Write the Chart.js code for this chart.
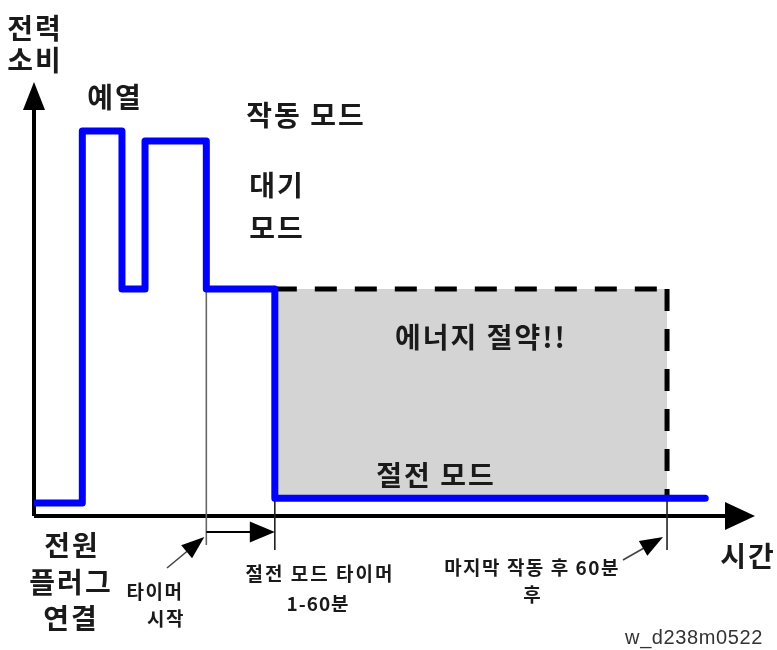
<!DOCTYPE html>
<html>
<head>
<meta charset="utf-8">
<script src="https://cdn.jsdelivr.net/npm/chart.js@4"></script>
<style>
  html, body { margin: 0; padding: 0; background: #fff; }
  #wrap { width: 777px; height: 650px; }
</style>
</head>
<body>
<div id="wrap"><canvas id="powerChart" width="777" height="650"></canvas></div>
<script>
// time axis runs 0..100, power axis 0..100 (arbitrary units)
const powerTimes  = [0, 6.7, 12.2, 15.4, 23.9, 33.4, 93.1];
const powerLevels = [3.0, 88.7, 52.3, 86.4, 52.3, 4.1, 4.1];

const savingTimes  = [33.4, 87.8];
const savingLevels = [52.3, 52.3];
const savingFloor  = 4.1;

const timerStart = 23.9;   // 타이머 시작
const sleepStart = 33.4;   // 절전 모드 진입
const lastOpEnd  = 87.8;   // 마지막 작동 후 60분

const BIG = 'bold 28px "Noto Sans CJK KR", sans-serif';
const SMALL = 'bold 19px "Noto Sans CJK KR", sans-serif';

const labels = [
    { text: "전력", x: 35, y: 28, font: BIG },
    { text: "소비", x: 35, y: 60, font: BIG },
    { text: "예열", x: 115, y: 97, font: BIG },
    { text: "작동 모드", x: 306, y: 115, font: BIG },
    { text: "대기", x: 277, y: 185, font: BIG },
    { text: "모드", x: 277, y: 228, font: BIG },
    { text: "에너지 절약!!", x: 481, y: 337, font: BIG },
    { text: "절전 모드", x: 436, y: 475, font: BIG },
    { text: "전원", x: 72, y: 545, font: BIG },
    { text: "플러그", x: 71, y: 582, font: BIG },
    { text: "연결", x: 71, y: 618, font: BIG },
    { text: "시간", x: 748, y: 556, font: BIG },
    { text: "타이머", x: 155, y: 592, font: SMALL, sp: 1.5 },
    { text: "시작", x: 166, y: 619, font: SMALL, sp: 1.5 },
    { text: "절전 모드 타이머", x: 320, y: 574, font: SMALL, sp: 2 },
    { text: "1-60분", x: 318, y: 604, font: SMALL, sp: 1 },
    { text: "마지막 작동 후 60분", x: 532, y: 568, font: SMALL, sp: 1.5 },
    { text: "후", x: 533, y: 595, font: SMALL },
    { text: "w_d238m0522", x: 694, y: 638, font: '20px "Liberation Sans", Arial, sans-serif', color: "#333", sp: 0.6 }
];

function arrowHead(ctx, x1, y1, x2, y2, len, wid) {
    const a = Math.atan2(y2 - y1, x2 - x1);
    ctx.beginPath();
    ctx.moveTo(x2, y2);
    ctx.lineTo(x2 - len * Math.cos(a) + wid / 2 * Math.sin(a), y2 - len * Math.sin(a) - wid / 2 * Math.cos(a));
    ctx.lineTo(x2 - len * Math.cos(a) - wid / 2 * Math.sin(a), y2 - len * Math.sin(a) + wid / 2 * Math.cos(a));
    ctx.closePath();
    ctx.fill();
}

const diagramPlugin = {
    id: 'diagram',
    beforeDatasetsDraw(chart) {
        const { ctx, chartArea, scales } = chart;
        const x = scales.x, y = scales.y;
        const x0 = chartArea.left, y0 = chartArea.bottom;
        ctx.save();
        ctx.fillStyle = '#000';
        ctx.strokeStyle = '#000';
        ctx.lineWidth = 4;
        // axes
        ctx.beginPath();
        ctx.moveTo(x0, y0);
        ctx.lineTo(x0, chartArea.top + 25);
        ctx.moveTo(x0, y0);
        ctx.lineTo(chartArea.right - 25, y0);
        ctx.stroke();
        arrowHead(ctx, x0, y0, x0, chartArea.top, 28, 22);
        arrowHead(ctx, x0, y0, chartArea.right, y0, 30, 28);

        // thin marker lines
        ctx.lineWidth = 1.6;
        ctx.strokeStyle = '#666';
        ctx.beginPath();
        ctx.moveTo(x.getPixelForValue(timerStart), y.getPixelForValue(savingLevels[0]));
        ctx.lineTo(x.getPixelForValue(timerStart), y0 + 29);
        ctx.stroke();
        ctx.strokeStyle = '#222';
        ctx.beginPath();
        ctx.moveTo(x.getPixelForValue(sleepStart), y.getPixelForValue(savingFloor));
        ctx.lineTo(x.getPixelForValue(sleepStart), y0 + 34);
        ctx.moveTo(x.getPixelForValue(lastOpEnd), y.getPixelForValue(savingFloor));
        ctx.lineTo(x.getPixelForValue(lastOpEnd), y0 + 34);
        ctx.stroke();

        // timer interval arrow
        const ta = x.getPixelForValue(timerStart), tb = x.getPixelForValue(sleepStart);
        ctx.lineWidth = 2;
        ctx.strokeStyle = '#000';
        ctx.beginPath();
        ctx.moveTo(ta, y0 + 16);
        ctx.lineTo(tb - 20, y0 + 16);
        ctx.stroke();
        arrowHead(ctx, ta, y0 + 16, tb, y0 + 16, 25, 21);

        // pointer arrows
        ctx.lineWidth = 1.6;
        ctx.strokeStyle = '#444';
        const p1 = [167, 568, ta - 2, y0 + 21];
        const p2 = [623, 560, x.getPixelForValue(lastOpEnd) - 4, y0 + 21];
        [p1, p2].forEach(p => {
            const a = Math.atan2(p[3] - p[1], p[2] - p[0]);
            ctx.beginPath();
            ctx.moveTo(p[0], p[1]);
            ctx.lineTo(p[2] - 18 * Math.cos(a), p[3] - 18 * Math.sin(a));
            ctx.stroke();
            arrowHead(ctx, p[0], p[1], p[2], p[3], 23, 17);
        });
        ctx.restore();
    },
    afterDraw(chart) {
        const ctx = chart.ctx;
        ctx.save();
        ctx.textAlign = 'center';
        ctx.textBaseline = 'middle';
        labels.forEach(l => {
            ctx.font = l.font;
            ctx.letterSpacing = (l.sp === undefined ? 2 : l.sp) + 'px';
            ctx.fillStyle = l.color || '#1a1a1a';
            ctx.fillText(l.text, l.x, l.y);
        });
        ctx.restore();
    }
};

const ctx = document.getElementById('powerChart').getContext('2d');
new Chart(ctx, {
    type: 'line',
    data: {
        datasets: [
            {
                // power consumption
                data: powerTimes.map((t, i) => ({ x: t, y: powerLevels[i] })),
                stepped: 'before',
                borderColor: '#0000ff',
                borderWidth: 7,
                borderJoinStyle: 'round',
                borderCapStyle: 'round',
                pointRadius: 0,
                fill: false,
                order: 0
            },
            {
                // energy saving area, top edge
                data: savingTimes.map((t, i) => ({ x: t, y: savingLevels[i] })),
                borderColor: '#000',
                borderWidth: 5,
                borderDash: [22, 18],
                backgroundColor: '#d4d4d4',
                pointRadius: 0,
                fill: { value: savingFloor },
                order: 2
            },
            {
                // energy saving area, right edge
                data: [{ x: savingTimes[1], y: savingLevels[1] }, { x: savingTimes[1], y: savingFloor }],
                borderColor: '#000',
                borderWidth: 5,
                borderDash: [22, 18],
                pointRadius: 0,
                fill: false,
                order: 1
            }
        ]
    },
    options: {
        responsive: false,
        animation: false,
        layout: { padding: { left: 34, right: 22, top: 82, bottom: 134 } },
        scales: {
            x: { type: 'linear', min: 0, max: 100, display: false },
            y: { min: 0, max: 100, display: false }
        },
        plugins: {
            legend: { display: false },
            tooltip: { enabled: false }
        }
    },
    plugins: [diagramPlugin]
});
</script>
</body>
</html>
